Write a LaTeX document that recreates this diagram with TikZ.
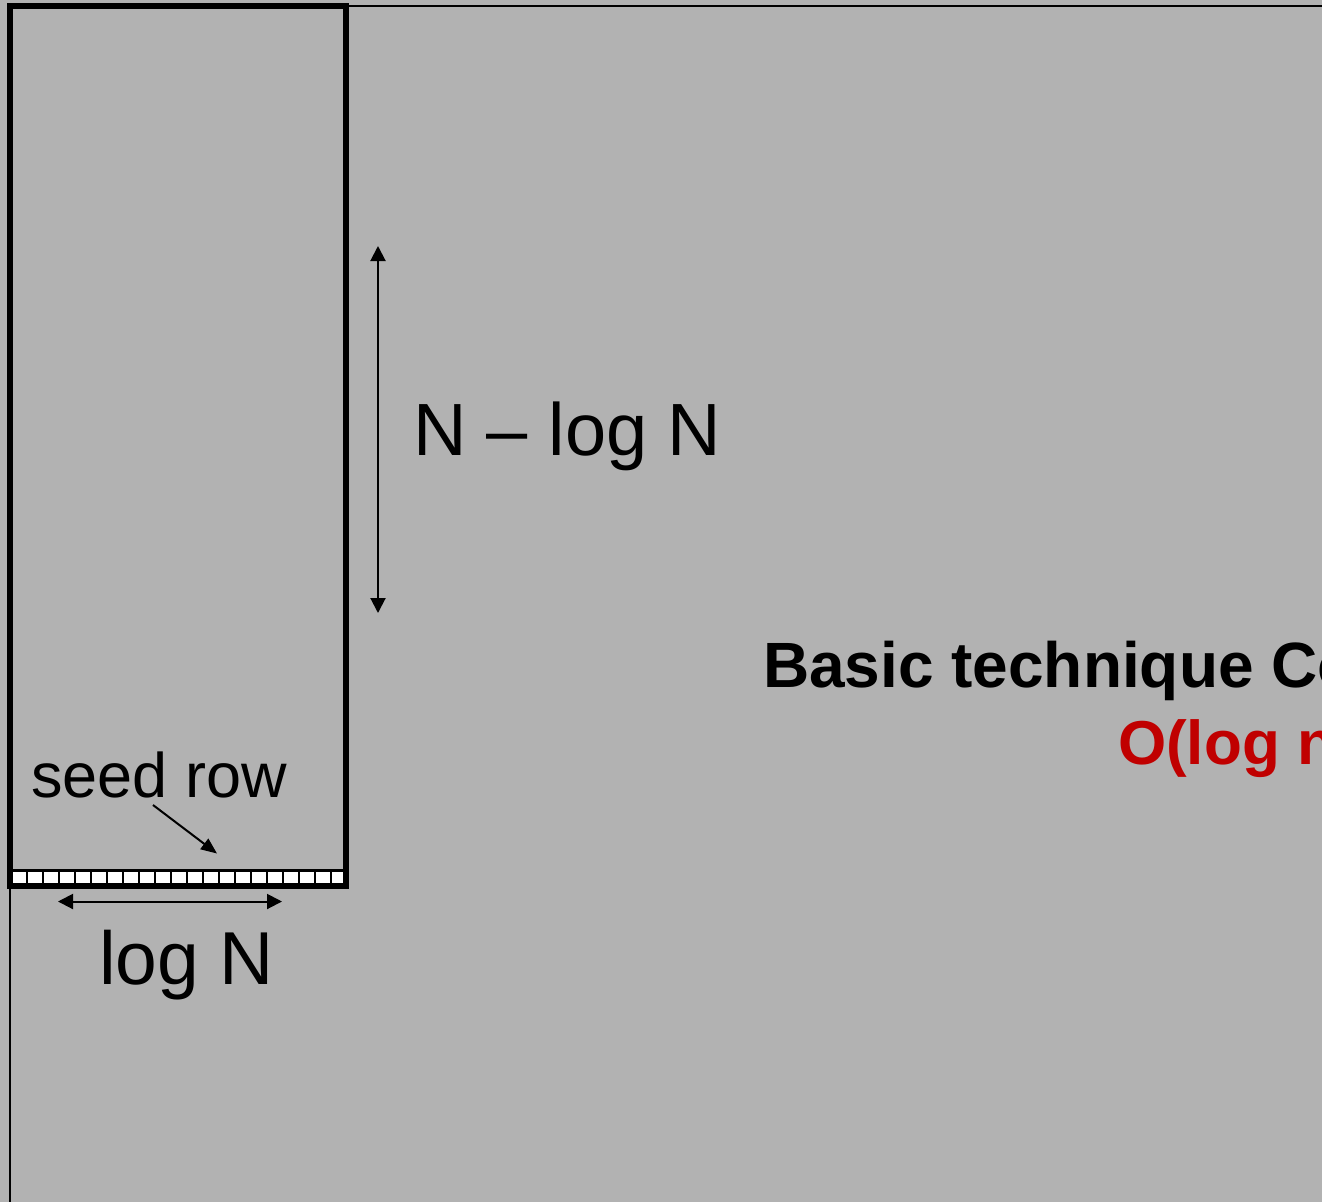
\documentclass[tikz,border=0pt]{standalone}
\usepackage{fontspec}
\setmainfont{Liberation Sans}
\usetikzlibrary{arrows.meta}
\definecolor{bggray}{RGB}{178,178,178}
\definecolor{darkred}{RGB}{192,0,0}
\tikzset{
  frameline/.style={line width=2pt, draw=black},
  dimarrow/.style={line width=2pt, {Triangle[length=15pt,width=15pt]}-{Triangle[length=15pt,width=15pt]}},
  pointarrow/.style={line width=2pt, -{Triangle[length=16pt,width=13pt]}},
  cellbox/.style={draw=black, fill=white, line width=2pt, minimum width=16pt, minimum height=15pt, inner sep=0pt, outer sep=0pt},
  biglabel/.style={anchor=base west, inner sep=0pt, outer sep=0pt, font=\fontsize{74}{88}\selectfont},
  seedlabel/.style={anchor=base west, inner sep=0pt, outer sep=0pt, font=\fontsize{63}{75}\selectfont},
  titlelabel/.style={anchor=base west, inner sep=0pt, outer sep=0pt, font=\fontsize{64}{77}\selectfont\bfseries}
}
\begin{document}
\begin{tikzpicture}[x=1pt,y=-1pt]
  \fill[bggray] (0,0) rectangle (1322,1202);
  \useasboundingbox (0,0) rectangle (1322,1202);
  \clip (0,0) rectangle (1322,1202);
  % outer frame fragments
  \draw[frameline] (346,6) -- (1322,6);
  \draw[frameline] (10,886) -- (10,1202);
  % seed row cells
  \foreach \i in {0,...,20} {
    \node[cellbox] (cell\i) at ({19+16*\i},878.5) {};
  }
  % the column
  \draw[line width=6pt] (10.3,6.3) rectangle (346,886);
  \draw[line width=3pt] (10.3,870.5) -- (346,870.5);
  % vertical dimension arrow
  \coordinate (vtop) at (378,246);
  \coordinate (vbot) at (378,613);
  \draw[dimarrow] (vtop) -- (vbot);
  \node[biglabel] (nlog) at (413,455) {N – log N};
  % horizontal dimension arrow
  \coordinate (hl) at (58,901.5);
  \coordinate (hr) at (282,901.5);
  \draw[dimarrow] (hl) -- (hr);
  \node[biglabel, font=\fontsize{75}{89}\selectfont] (logn) at (99,984) {log N};
  % seed row label and pointer
  \node[seedlabel] (seed) at (31,797) {seed row};
  \coordinate (ptail) at (153,805);
  \coordinate (ptip) at (217,853.5);
  \draw[pointarrow] (ptail) -- (ptip);
  % title text (cut off at right, as in the reference)
  \node[titlelabel] (title) at (763,687) {Basic technique Co};
  \node[titlelabel, text=darkred, font=\fontsize{62}{75}\selectfont\bfseries] (cplx) at (1118,764) {O(log n};
\end{tikzpicture}
\end{document}
